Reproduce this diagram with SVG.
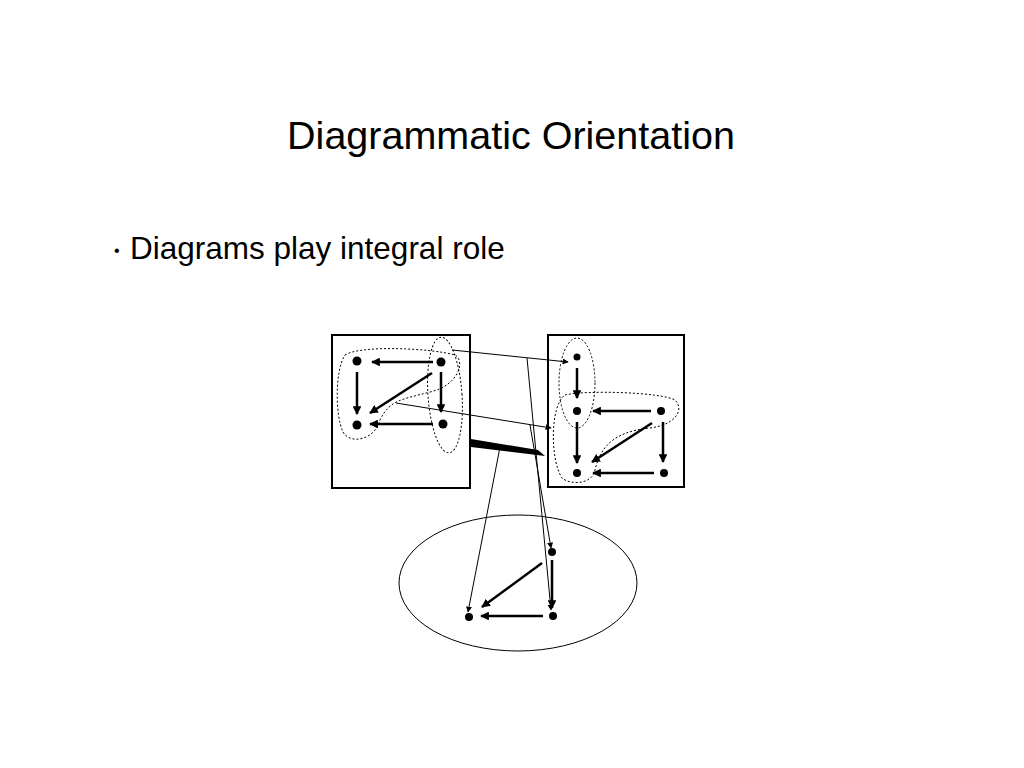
<svg xmlns="http://www.w3.org/2000/svg" width="1024" height="768" viewBox="0 0 1024 768">
<defs>
<marker id="a" viewBox="0 0 10 10" refX="9" refY="5" markerWidth="3.5" markerHeight="3.5" orient="auto"><path d="M0,0L10,5L0,10z" fill="#000"/></marker>
<marker id="b" viewBox="0 0 10 10" refX="9" refY="5" markerWidth="6" markerHeight="6" orient="auto" markerUnits="userSpaceOnUse"><path d="M0,0L10,5L0,10z" fill="#000"/></marker>
<style>
.e{stroke:#000;stroke-width:2.5;fill:none;marker-end:url(#a)}
.t{stroke:#000;stroke-width:1;fill:none;marker-end:url(#b)}
.d{stroke:#000;stroke-width:1;fill:none;stroke-dasharray:2,2}
.n{fill:#000}
text{font-family:"Liberation Sans",Arial,sans-serif;fill:#000}
</style>
</defs>
<rect width="1024" height="768" fill="#fff"/>
<text x="511" y="149" font-size="39.5" text-anchor="middle">Diagrammatic Orientation</text>
<text x="114" y="256" font-size="16">•</text>
<text x="130" y="259" font-size="31.5">Diagrams play integral role</text>
<g id="boxes">
<rect x="332" y="335" width="138" height="153" fill="none" stroke="#000" stroke-width="2"/>
<rect x="548" y="335" width="136" height="152" fill="none" stroke="#000" stroke-width="2"/>
<ellipse cx="518" cy="583" rx="119" ry="68" fill="none" stroke="#000" stroke-width="1"/>
</g>
<g id="hulls">
<path class="d" d="M345,355 C360,345 430,348 455,355 C465,360 460,385 430,392 C400,400 390,400 380,420 C375,440 350,445 343,432 C335,415 335,370 345,355Z"/>
<ellipse class="d" cx="445" cy="395" rx="17" ry="58" transform="rotate(-4 445 395)"/>
<ellipse class="d" cx="577" cy="383" rx="18" ry="45"/>
<path class="d" d="M565,395 C585,390 660,392 675,400 C685,410 675,425 650,428 C610,432 600,450 595,470 C592,485 570,485 562,478 C550,460 550,405 565,395Z"/>
</g>
<g id="nodes">
<circle class="n" cx="357" cy="361" r="4.5"/><circle class="n" cx="441" cy="362" r="4.5"/>
<circle class="n" cx="357" cy="425" r="4.5"/><circle class="n" cx="443" cy="424" r="4.5"/>
<circle class="n" cx="577" cy="357" r="3.5"/><circle class="n" cx="577" cy="411" r="4"/>
<circle class="n" cx="661" cy="411" r="4"/><circle class="n" cx="577" cy="473" r="4"/>
<circle class="n" cx="664" cy="473" r="4"/>
<circle class="n" cx="552" cy="552" r="4"/><circle class="n" cx="469" cy="617" r="4"/><circle class="n" cx="553" cy="616" r="4"/>
</g>
<g id="connectors">
<line class="e" x1="433" y1="362" x2="372" y2="362"/>
<line class="e" x1="357" y1="372" x2="357" y2="414"/>
<line class="e" x1="441" y1="372" x2="441" y2="412"/>
<line class="e" x1="432" y1="373" x2="370" y2="413"/>
<line class="e" x1="433" y1="424" x2="370" y2="424"/>
<line class="e" x1="577" y1="368" x2="577" y2="398"/>
<line class="e" x1="651" y1="411" x2="593" y2="411"/>
<line class="e" x1="577" y1="422" x2="577" y2="463"/>
<line class="e" x1="652" y1="423" x2="592" y2="462"/>
<line class="e" x1="663" y1="422" x2="663" y2="462"/>
<line class="e" x1="654" y1="473" x2="593" y2="473"/>
<line class="e" x1="552" y1="560" x2="552" y2="608"/>
<line class="e" x1="542" y1="563" x2="482" y2="607"/>
<line class="e" x1="543" y1="616" x2="481" y2="616"/>
<line class="t" x1="452" y1="350" x2="568" y2="362"/>
<line class="t" x1="396" y1="403" x2="551" y2="428"/>
<line class="t" x1="527" y1="358" x2="551" y2="610"/>
<line class="t" x1="530" y1="425" x2="551" y2="548"/>
<line class="t" x1="500" y1="447" x2="468" y2="612"/>
<polygon points="471,439 538,450 545,456 471,447" fill="#000"/>
</g>
</svg>
